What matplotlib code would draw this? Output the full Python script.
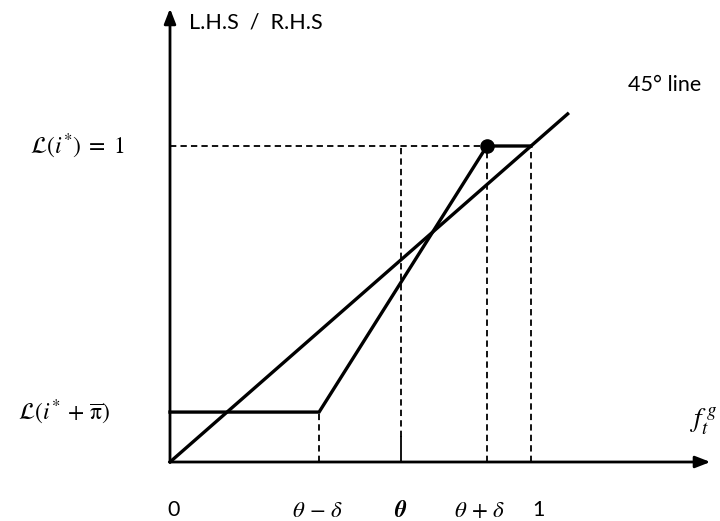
import matplotlib
matplotlib.use('Agg')
import matplotlib.pyplot as plt

plt.rcParams['mathtext.fontset'] = 'stix'
plt.rcParams['font.family'] = ['Lato', 'DejaVu Sans']

# key points on the horizontal axis (0..1 scale)
theta_minus = 0.413
theta = 0.64
theta_plus = 0.878
one = 1.0

# levels on the vertical axis
low_level = 0.158
high_level = 1.0

# 45 degree line end
line45_end = 1.105

# L.H.S curve: flat, steep rise, flat at 1
lhs_x = [0.0, theta_minus, theta_plus, one]
lhs_y = [low_level, low_level, high_level, high_level]

tick_pos = [0.0, theta_minus, theta, theta_plus, one]
tick_labels = ['0', r'$\theta\,-\,\delta$', r'$\boldsymbol{\theta}$', r'$\theta\,+\,\delta$', '1']
tick_offset = [0.01, -0.003, 0.0, -0.02, 0.022]

fig = plt.figure(figsize=(7.2, 5.21), dpi=100)
ax = fig.add_axes([0, 0, 1, 1])
ax.set_xlim(-170 / 361, 550 / 361)
ax.set_ylim(-59 / 316, 462 / 316)
ax.axis('off')

# axes with arrows
ax.annotate('', xy=(0, 1.435), xytext=(0, -0.002),
            arrowprops=dict(arrowstyle='-|>,head_length=0.9,head_width=0.35',
                            lw=2, color='black', shrinkA=0, shrinkB=0))
ax.annotate('', xy=(1.497, 0), xytext=(-0.002, 0),
            arrowprops=dict(arrowstyle='-|>,head_length=0.9,head_width=0.35',
                            lw=2, color='black', shrinkA=0, shrinkB=0))

# dashed guides
dash = dict(color='black', lw=1.3, ls=(0, (3.5, 2.3)))
ax.plot([0, theta_plus], [high_level, high_level], **dash)
ax.plot([theta_minus, theta_minus], [0, low_level], **dash)
ax.plot([theta, theta], [0.08, high_level], **dash)
ax.plot([theta, theta], [0, 0.08], color='black', lw=1.3)
ax.plot([theta_plus, theta_plus], [0, high_level], **dash)
ax.plot([one, one], [0, high_level], **dash)

# 45 degree line
ax.plot([0, line45_end], [0, line45_end], color='black', lw=2.4, solid_capstyle='butt')
# L.H.S curve
ax.plot(lhs_x, lhs_y, color='black', lw=2.4, solid_joinstyle='miter')
ax.scatter([theta_plus], [high_level], s=90, color='black', zorder=5)

# labels
fs = 16.5
ax.text(86 / 361, 1.39, 'L.H.S  /  R.H.S', fontsize=15.5, ha='center', va='center')
ax.text(495 / 361, 1.193, '45° line', fontsize=15.5, ha='center', va='center')
ax.text(-93 / 361, high_level, r'$\mathcal{L}(i^{*})\;=\;1$', fontsize=fs + 0.5,
        ha='center', va='center')
ax.text(-106 / 361, low_level, r'$\mathcal{L}(i^{*}\,+\,\overline{\mathrm{\pi}})$', fontsize=fs + 0.5,
        ha='center', va='center')
ax.text(534 / 361, 0.13, r'$f_t^{\,g}$', fontsize=fs + 3, ha='center', va='center')

for pos, lab, off in zip(tick_pos, tick_labels, tick_offset):
    ax.text(pos + off, -0.153, lab, fontsize=fs if lab.startswith('$') else 15.5,
            ha='center', va='center')

fig.savefig('out.png', dpi=100)
